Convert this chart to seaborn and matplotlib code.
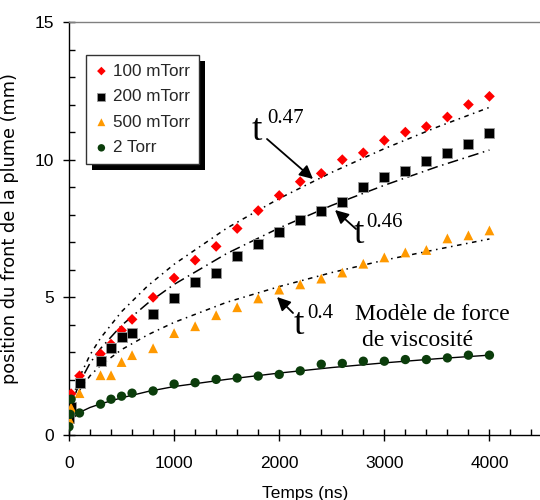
import matplotlib
matplotlib.use("Agg")
import matplotlib.pyplot as plt
import seaborn as sns
from matplotlib.patches import Rectangle
from matplotlib.transforms import IdentityTransform
from matplotlib.ticker import MultipleLocator, FixedLocator

sns.set_theme(style="white")
plt.rcParams["font.family"] = ["Liberation Sans", "DejaVu Sans"]

# ---------------- data ----------------
t_exp = [0, 20, 100, 300, 400, 500, 600, 800, 1000, 1200, 1400, 1600, 1800,
         2000, 2200, 2400, 2600, 2800, 3000, 3200, 3400, 3600, 3800, 4000]
p_100mtorr = [0.5, 1.5, 2.15, 2.95, 3.3, 3.8, 4.2, 5.0, 5.7, 6.35, 6.85, 7.5, 8.15,
              8.7, 9.2, 9.5, 10.0, 10.25, 10.7, 11.0, 11.2, 11.55, 12.0, 12.3]
p_200mtorr = [0.6, 1.0, 1.9, 2.7, 3.15, 3.55, 3.7, 4.4, 4.96, 5.55, 5.9, 6.5, 6.95,
              7.36, 7.8, 8.15, 8.45, 9.0, 9.36, 9.6, 9.96, 10.25, 10.58, 10.98]
p_500mtorr = [0.6, 1.0, 1.52, 2.17, 2.17, 2.65, 2.9, 3.15, 3.7, 3.95, 4.35, 4.64, 4.96,
              5.28, 5.47, 5.68, 5.9, 6.22, 6.45, 6.63, 6.72, 7.14, 7.25, 7.43]
t_2torr = [0, 10, 20, 100, 300, 400, 500, 600, 800, 1000, 1200, 1400, 1600, 1800,
           2000, 2200, 2400, 2600, 2800, 3000, 3200, 3400, 3600, 3800, 4000]
p_2torr = [0.3, 0.75, 1.3, 0.8, 1.12, 1.3, 1.41, 1.52, 1.6, 1.85, 1.9, 2.02, 2.07, 2.14,
           2.2, 2.33, 2.57, 2.6, 2.68, 2.68, 2.74, 2.74, 2.8, 2.9, 2.9]

t_fit = [0, 25, 50, 100, 200, 300, 500, 750, 1000, 1500, 2000, 2500, 3000, 3500, 4000]
fit_t047 = [0, 1.10, 1.52, 2.10, 2.91, 3.52, 4.48, 5.42, 6.20, 7.51, 8.59, 9.54, 10.40, 11.18, 11.90]
fit_t046 = [0, 1.00, 1.38, 1.90, 2.61, 3.14, 3.98, 4.79, 5.47, 6.59, 7.52, 8.34, 9.07, 9.74, 10.35]
fit_t04 = [0, 0.93, 1.23, 1.63, 2.15, 2.53, 3.10, 3.64, 4.09, 4.82, 5.39, 5.90, 6.35, 6.74, 7.12]
fit_visc = [0.4, 0.55, 0.65, 0.82, 1.0, 1.13, 1.35, 1.58, 1.76, 2.02, 2.25, 2.45, 2.62, 2.77, 2.9]

labels = ["100 mTorr", "200 mTorr", "500 mTorr", "2 Torr"]
x_ticks = [0, 1000, 2000, 3000, 4000]
y_ticks = [0, 5, 10, 15]

# ---------------- figure ----------------
W, H = 540, 500
fig = plt.figure(figsize=(W / 100, H / 100), dpi=100)
fig.patch.set_facecolor("white")
ax = fig.add_axes([69 / W, 65 / H, 473 / W, 413 / H])
ax.set_facecolor("white")

# fitted / model curves
sns.lineplot(x=t_fit, y=fit_t047, ax=ax, color="black", lw=1.1,
             linestyle=(0, (3, 3, 1, 3)), zorder=2, legend=False, sort=False)
sns.lineplot(x=t_fit, y=fit_t046, ax=ax, color="black", lw=1.1,
             linestyle=(0, (7, 3, 1, 3)), zorder=2, legend=False, sort=False)
sns.lineplot(x=t_fit, y=fit_t04, ax=ax, color="black", lw=1.1,
             linestyle=(0, (3, 3, 1, 3)), zorder=2, legend=False, sort=False)
sns.lineplot(x=t_fit, y=fit_visc, ax=ax, color="black", lw=1.0,
             linestyle="-", zorder=2, legend=False, sort=False)

# experimental points
sns.scatterplot(x=t_exp, y=p_100mtorr, ax=ax, marker="D", color="#FF0000", s=30,
                edgecolor="none", label=labels[0], zorder=4)
sns.scatterplot(x=t_exp, y=p_200mtorr, ax=ax, marker="s", color="black", s=45,
                edgecolor="#9a9a9a", linewidth=0.6, label=labels[1], zorder=4)
sns.scatterplot(x=t_exp, y=p_500mtorr, ax=ax, marker="^", color="#FF9900", s=50,
                edgecolor="none", label=labels[2], zorder=4)
sns.scatterplot(x=t_2torr, y=p_2torr, ax=ax, marker="o", color="#0B3D0B", s=45,
                edgecolor="none", label=labels[3], zorder=4)

# axes
ax.set_xlim(0, 4500)
ax.set_ylim(0, 15)
ax.xaxis.set_major_locator(FixedLocator(x_ticks))
ax.yaxis.set_major_locator(FixedLocator(y_ticks))
ax.xaxis.set_minor_locator(MultipleLocator(200))
ax.yaxis.set_minor_locator(MultipleLocator(1))
ax.tick_params(axis="both", which="major", direction="inout", length=8, width=1,
               color="black", labelsize=12.5, labelcolor="black",
               bottom=True, left=True, top=False, right=False)
ax.tick_params(axis="both", which="minor", direction="in", length=4, width=1,
               color="black", bottom=True, left=True, top=False, right=False)
ax.tick_params(axis="x", which="major", pad=11)
ax.tick_params(axis="y", which="major", pad=7)
for side in ["left", "bottom"]:
    ax.spines[side].set_color("black")
    ax.spines[side].set_linewidth(1.0)
ax.spines["top"].set_color("#808080")
ax.spines["top"].set_linewidth(1.0)
ax.spines["right"].set_visible(False)
ax.grid(False)

ax.set_xlabel("Temps (ns)", fontsize=12.5, color="black")
ax.set_ylabel("position du front de la plume (mm)", fontsize=12.8, color="black",
              family=["DejaVu Sans"])
ax.xaxis.set_label_coords(0.5, (435 - 486) / 413)
ax.yaxis.set_label_coords((19 - 69) / 473, 0.5)

# legend
handles, labs = ax.get_legend_handles_labels()
leg = ax.legend(handles, labs, loc="upper left",
                bbox_to_anchor=((86 - 69) / 473, (435 - 55) / 413),
                frameon=True, fancybox=False, fontsize=12.3, markerscale=0.8,
                handlelength=0.8, handletextpad=0.3, borderpad=0.5,
                labelspacing=0.62, borderaxespad=0)
leg.get_frame().set_edgecolor("#333333")
leg.get_frame().set_linewidth(1.0)
leg.get_frame().set_facecolor("white")
leg.get_frame().set_alpha(1)

fig.canvas.draw()
bb = leg.get_window_extent()
shadow = Rectangle((bb.x0 + 6, bb.y0 - 6), bb.width, bb.height,
                   transform=IdentityTransform(), facecolor="black",
                   edgecolor="none", zorder=4.9, clip_on=False)
ax.add_artist(shadow)


# annotations (pixel positions, top-left origin)
def fx(x):
    return x / W


def fy(y):
    return 1 - y / H


serif = ["Liberation Serif", "DejaVu Serif"]
notes = [
    ("0.47", (252, 140), (267, 123), (267, 139), (313, 179)),
    ("0.46", (354, 243), (366, 227), (356, 229), (335, 210)),
    ("0.4", (294, 334), (307, 318), (293, 313), (277, 297)),
]
for sup, tpos, spos, tail, tip in notes:
    fig.text(fx(tpos[0]), fy(tpos[1]), "t", fontsize=27, family=serif,
             va="baseline", ha="left", color="black")
    fig.text(fx(spos[0]), fy(spos[1]), sup, fontsize=15, family=serif,
             va="baseline", ha="left", color="black")
    ax.annotate("", xy=(fx(tip[0]), fy(tip[1])), xycoords="figure fraction",
                xytext=(fx(tail[0]), fy(tail[1])), textcoords="figure fraction",
                arrowprops=dict(arrowstyle="-|>", color="black", lw=1.3,
                                mutation_scale=20, shrinkA=0, shrinkB=0))

fig.text(fx(355), fy(320), "Modèle de force", fontsize=17, family=serif,
         va="baseline", ha="left", color="black")
fig.text(fx(362), fy(346), "de viscosité", fontsize=17, family=serif,
         va="baseline", ha="left", color="black")

fig.savefig("out.png", dpi=100, facecolor="white")
